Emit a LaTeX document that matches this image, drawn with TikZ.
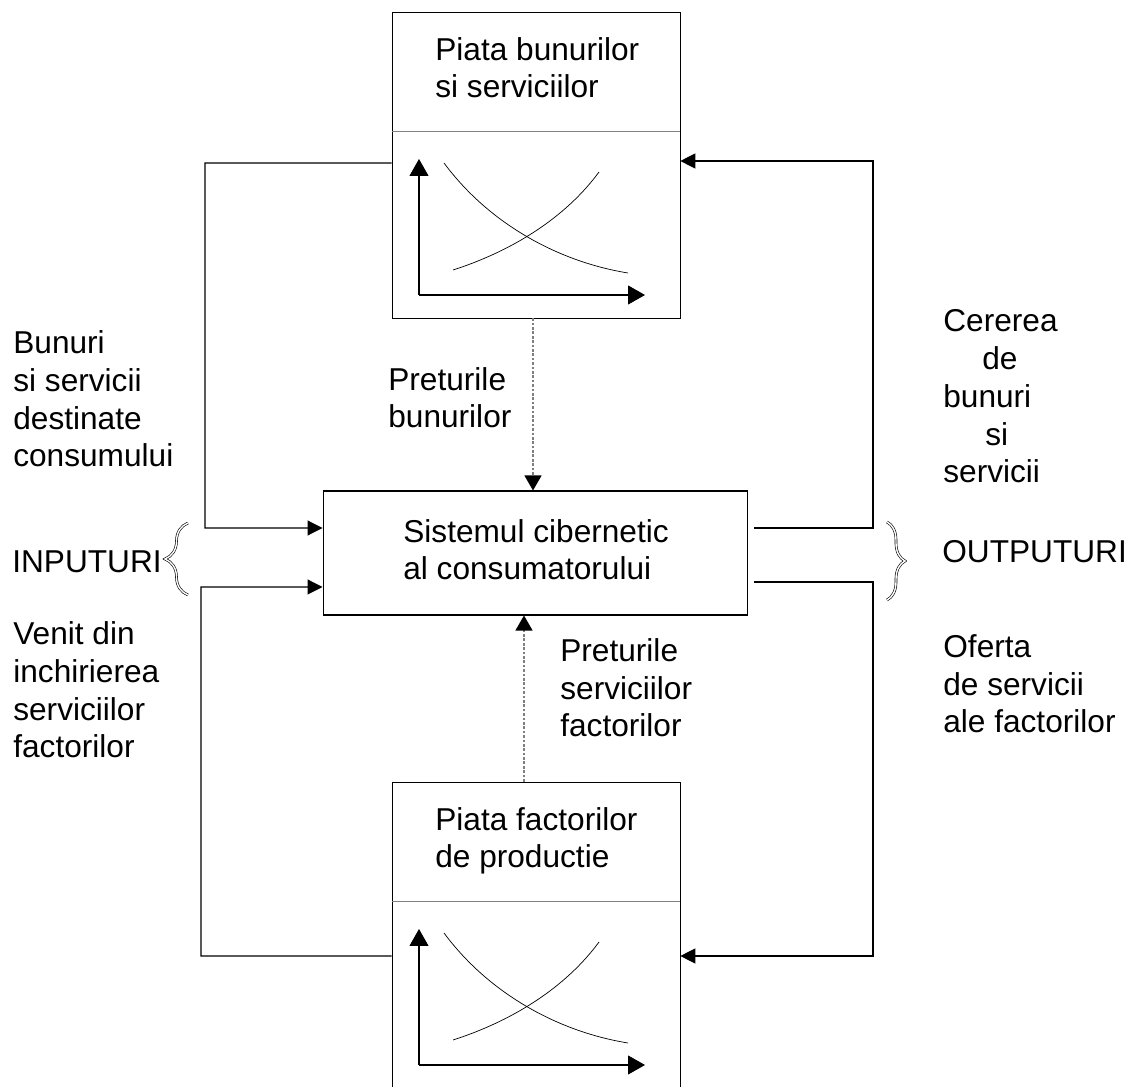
\documentclass[tikz,border=0pt]{standalone}
\usepackage{fontspec}
\setmainfont{Liberation Sans}
\usetikzlibrary{arrows.meta,decorations.pathreplacing}

\tikzset{
  lbl/.style={font=\fontsize{18}{21.5}\selectfont, align=left, inner sep=0pt, anchor=base west},
  market/.style={draw, minimum width=5.76cm, minimum height=6.12cm, inner sep=0pt},
  link/.style={line width=0.6pt, -{Triangle[length=0.3cm,width=0.3cm]}},
  price/.style={gray, line width=0.6pt, dash pattern=on 1.5pt off 1pt,
    -{Triangle[length=0.3cm,width=0.34cm,fill=black,color=black]}},
  axis/.style={line width=0.6pt, -{Triangle[length=0.34cm,width=0.38cm]}},
  curly/.style={decorate, double=white, double distance=0.8pt, line width=0.35pt}
}

\begin{document}
\begin{tikzpicture}[x=0.02cm, y=-0.02cm]
  \clip (0,0) rectangle (1134,1087);
  \fill[white] (0,0) rectangle (1134,1087);

  % the two markets and the consumer
  \node[market] (topbox) at (536,165) {};
  \node[market, minimum height=6.5cm] (bottombox) at (536,944.5) {};
  \node[draw, minimum width=8.5cm, minimum height=2.48cm, line width=0.6pt] (sys) at (535.5,553) {};

  \draw[gray, line width=0.6pt] (topbox.north west) ++(0,120) -- +(288,0);
  \draw[gray, line width=0.6pt] (bottombox.north west) ++(0,120) -- +(288,0);

  \node[lbl] (topcap) at (435,98) {Piata bunurilor\\si serviciilor};
  \node[lbl] (bottomcap) at (435,868) {Piata factorilor\\de productie};
  \node[lbl] (syscap) at (403,580) {Sistemul cibernetic\\al consumatorului};

  % supply and demand in each market
  \foreach \dy in {0,770} {
    \begin{scope}[shift={(0,\dy)}]
      \draw[axis] (419,295) -- (419,159);
      \draw[axis] (419,295) -- (645,295);
      \draw[line width=0.4pt] (444,163) .. controls (490,225) and (560,262) .. (628,273);
      \draw[line width=0.4pt] (453,270) .. controls (500,255) and (560,225) .. (599,172);
    \end{scope}
  }

  % inputs
  \draw[link] (topbox.west |- 0,163) -| (205,528) -- ([yshift=0.5cm]sys.west);
  \draw[link] (bottombox.west |- 0,956) -| (201,587) -- ([yshift=-0.68cm]sys.west);

  % outputs
  \draw[link] ([xshift=0.12cm,yshift=0.5cm]sys.east) -| (873,161) -- (topbox.east |- 0,161);
  \draw[link] ([xshift=0.12cm,yshift=-0.58cm]sys.east) -| (873,956) -- (bottombox.east |- 0,956);

  % prices
  \draw[price] ([xshift=-0.06cm]topbox.south) -- ([xshift=-0.06cm]topbox.south |- sys.north);
  \draw[price] ([xshift=-0.24cm]bottombox.north) -- ([xshift=-0.24cm]bottombox.north |- sys.south);

  \draw[curly, decoration={brace, amplitude=0.46cm}] (188,595) -- (188,523);
  \draw[curly, decoration={brace, amplitude=0.36cm}] (887,522) -- (887,600);

  % labels
  \node[lbl] (bunuri) at (13,467) {Bunuri\\si servicii\\destinate\\consumului};
  \node[lbl] (inputuri) at (12,573) {INPUTURI};
  \node[lbl] (venit) at (13,758) {Venit din\\inchirierea\\serviciilor\\factorilor};
  \node[lbl] (cerere) at (943,483) {Cererea\\\hspace*{0.78cm}de\\bunuri\\\hspace*{0.84cm}si\\servicii};
  \node[lbl] (outputuri) at (942,563) {OUTPUTURI};
  \node[lbl] (oferta) at (943,733) {Oferta\\de servicii\\ale factorilor};
  \node[lbl] (pb) at (388,428) {Preturile\\bunurilor};
  \node[lbl] (psf) at (560,737) {Preturile\\serviciilor\\factorilor};
\end{tikzpicture}
\end{document}
